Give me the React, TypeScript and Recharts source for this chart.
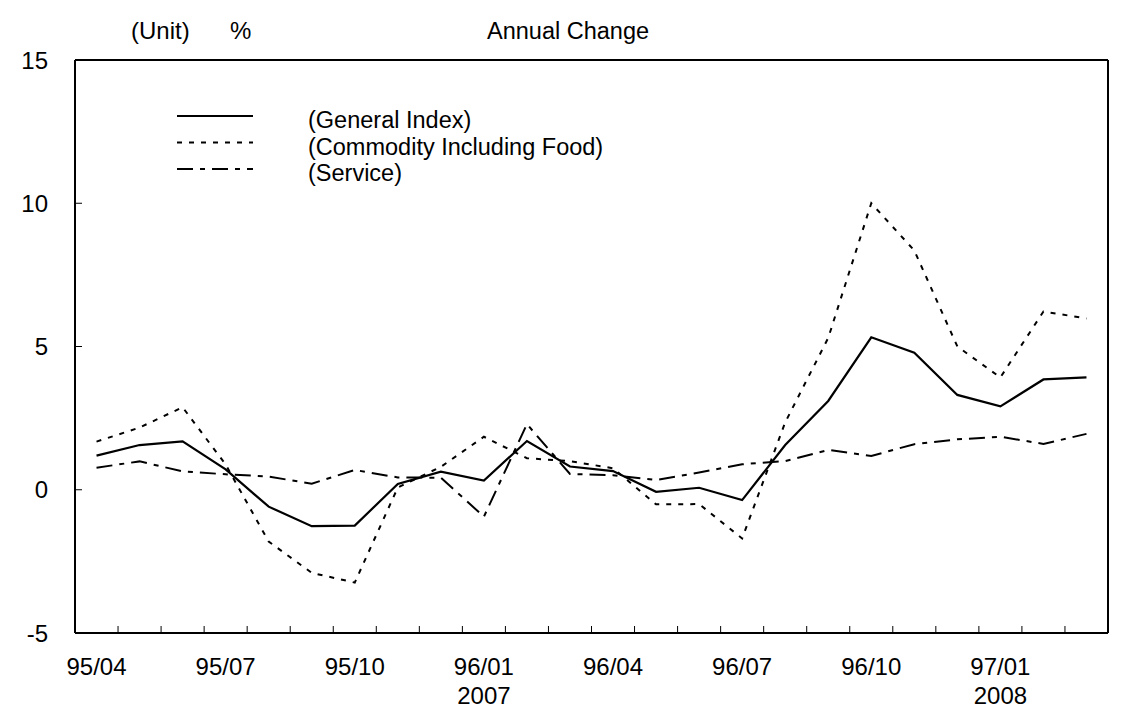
import { LineChart, Line, XAxis, YAxis, ReferenceLine } from 'recharts';

// monthly data, 1995/04 - 1997/03
const months = [
  '95/04', '95/05', '95/06', '95/07', '95/08', '95/09', '95/10', '95/11', '95/12',
  '96/01', '96/02', '96/03', '96/04', '96/05', '96/06', '96/07', '96/08', '96/09',
  '96/10', '96/11', '96/12', '97/01', '97/02', '97/03',
];
const generalIndex = [
  1.19, 1.56, 1.69, 0.71, -0.59, -1.27, -1.25, 0.2, 0.63, 0.32, 1.7, 0.81,
  0.65, -0.07, 0.07, -0.36, 1.56, 3.1, 5.32, 4.78, 3.31, 2.91, 3.85, 3.92,
];
const commodity = [
  1.68, 2.17, 2.88, 0.88, -1.81, -2.9, -3.24, 0.08, 0.8, 1.85, 1.1, 1.0,
  0.75, -0.51, -0.5, -1.7, 2.35, 5.3, 10.0, 8.35, 5.0, 3.92, 6.22, 5.98,
];
const service = [
  0.77, 0.99, 0.64, 0.54, 0.46, 0.21, 0.69, 0.43, 0.42, -0.94, 2.29, 0.55,
  0.51, 0.34, 0.6, 0.89, 1.0, 1.39, 1.18, 1.59, 1.76, 1.85, 1.6, 1.95,
];
const yTicks = [-5, 0, 5, 10, 15];
const labelledMonths = ['95/04', '95/07', '95/10', '96/01', '96/04', '96/07', '96/10', '97/01'];
const yearLabels: Record<string, string> = { '96/01': '2007', '97/01': '2008' };

const FONT = 'Liberation Sans, Arial, sans-serif';
const DOTTED = '5 7';
const DASH_DOT = '16 7 5 7';

const data = months.map((m, i) => ({
  month: m,
  general: generalIndex[i],
  commodity: commodity[i],
  service: service[i],
}));

const W = 1121;
const H = 719;
const PLOT_W = 1108 - 75;

function XTick(props: any) {
  const { x, y, payload } = props;
  const half = payload && payload.offset ? payload.offset : PLOT_W / months.length / 2;
  const v = payload.value as string;
  return (
    <g>
      <line x1={x - half} x2={x - half} y1={y} y2={y - 7} stroke="#000" strokeWidth={1} />
      {labelledMonths.includes(v) && (
        <text x={x} y={y + 42} textAnchor="middle" fontSize={24} fontFamily={FONT} fill="#000">
          {v}
        </text>
      )}
      {yearLabels[v] && (
        <text x={x} y={y + 71} textAnchor="middle" fontSize={24} fontFamily={FONT} fill="#000">
          {yearLabels[v]}
        </text>
      )}
    </g>
  );
}

function YTick(props: any) {
  const { x, y, payload } = props;
  return (
    <g>
      <line x1={x} x2={x + 7} y1={y} y2={y} stroke="#000" strokeWidth={1} />
      <text x={x - 27} y={y + 8.5} textAnchor="end" fontSize={24} fontFamily={FONT} fill="#000">
        {payload.value}
      </text>
    </g>
  );
}

const legendItems = [
  { label: '(General Index)', dash: undefined },
  { label: '(Commodity Including Food)', dash: DOTTED },
  { label: '(Service)', dash: DASH_DOT },
];

function LegendBox() {
  return (
    <svg width={460} height={90} style={{ position: 'absolute', left: 177, top: 100 }}>
      {legendItems.map((it, i) => (
        <g key={it.label}>
          <line x1={0} x2={76} y1={16 + i * 26.5} y2={16 + i * 26.5} stroke="#000" strokeWidth={2} strokeDasharray={it.dash} />
          <text x={131} y={28 + i * 26.5} fontSize={23.5} fontFamily={FONT} fill="#000">
            {it.label}
          </text>
        </g>
      ))}
    </svg>
  );
}

export default function App() {
  const titleStyle = { position: 'absolute' as const, top: 17, fontFamily: FONT, fontSize: 24, lineHeight: '28px' };
  return (
    <div style={{ position: 'absolute', left: 0, top: 0, width: W, height: H, background: '#fff' }}>
      <div style={{ ...titleStyle, left: 131 }}>(Unit)</div>
      <div style={{ ...titleStyle, left: 230 }}>%</div>
      <div style={{ ...titleStyle, left: 487, fontSize: 23.5 }}>Annual Change</div>
      <LineChart width={W} height={H} data={data} margin={{ top: 60, right: 13, bottom: 0, left: 0 }}>
        <XAxis
          dataKey="month"
          scale="band"
          interval={0}
          height={86}
          tickSize={0}
          tickMargin={0}
          tick={<XTick />}
          axisLine={{ stroke: '#000', strokeWidth: 2 }}
        />
        <YAxis
          domain={[-5, 15]}
          ticks={yTicks}
          width={75}
          tickSize={0}
          tickMargin={0}
          tick={<YTick />}
          axisLine={{ stroke: '#000', strokeWidth: 2 }}
          allowDataOverflow
        />
        <ReferenceLine y={15} stroke="#000" strokeWidth={2} />
        <ReferenceLine x={months[months.length - 1]} position="end" stroke="#000" strokeWidth={2} />
        <Line dataKey="general" stroke="#000" strokeWidth={2.2} dot={false} isAnimationActive={false} />
        <Line dataKey="commodity" stroke="#000" strokeWidth={2} strokeDasharray={DOTTED} dot={false} isAnimationActive={false} />
        <Line dataKey="service" stroke="#000" strokeWidth={2} strokeDasharray={DASH_DOT} dot={false} isAnimationActive={false} />
      </LineChart>
      <LegendBox />
    </div>
  );
}
